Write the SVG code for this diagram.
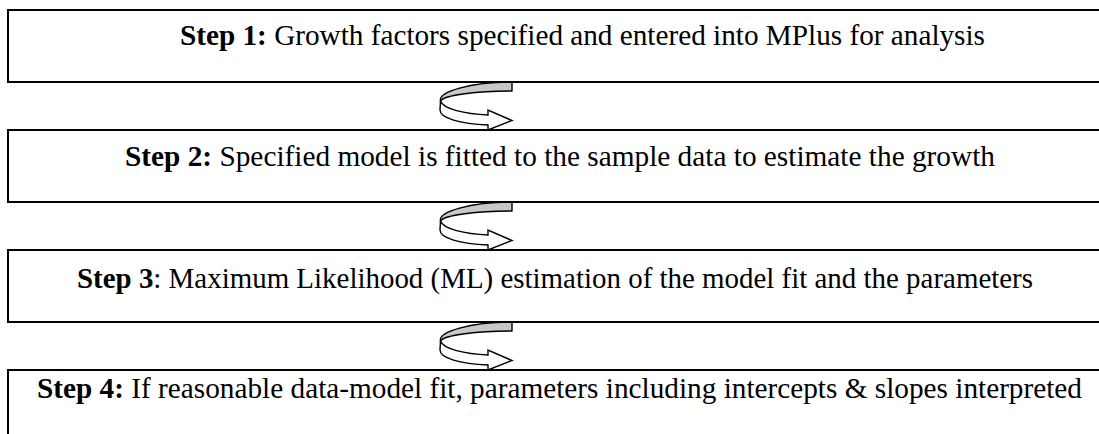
<svg xmlns="http://www.w3.org/2000/svg" width="1099" height="434" viewBox="0 0 1099 434">
<defs>
<style>
.box{fill:#fff;stroke:#000;stroke-width:2}
.t{font-family:"Liberation Serif","Times New Roman",serif;font-size:29px;fill:#000}
.b{font-weight:bold}
.back{fill:#c8c8c8;stroke:#000;stroke-width:1.4;stroke-linejoin:round}
.front{fill:#fff;stroke:#000;stroke-width:1.4;stroke-linejoin:miter}
</style>
<g id="uturn">
<path class="back" d="M512,82 L512,91 C478,91 444,95 440.5,101 C438,92 470,82 512,82 Z"/>
<path class="front" d="M440.5,101 C443,109 465,114 488,115 L488,110 L512,120.5 L488,130 L488,125 C460,124 440,118 440,110 Z"/>
</g>
</defs>
<rect width="1099" height="434" fill="#fff"/>
<g id="connectors">
<use href="#uturn"/>
<use href="#uturn" transform="translate(0,120)"/>
<use href="#uturn" transform="translate(0,240)"/>
</g>
<g id="step1">
<rect class="box" x="8" y="10" width="1100" height="72"/>
<text class="t" x="180" y="45" textLength="805" lengthAdjust="spacingAndGlyphs"><tspan class="b">Step 1:</tspan> Growth factors specified and entered into MPlus for analysis</text>
</g>
<g id="step2">
<rect class="box" x="8" y="130" width="1100" height="72"/>
<text class="t" x="125" y="166" textLength="870" lengthAdjust="spacingAndGlyphs"><tspan class="b">Step 2:</tspan> Specified model is fitted to the sample data to estimate the growth</text>
</g>
<g id="step3">
<rect class="box" x="8" y="250" width="1100" height="72"/>
<text class="t" x="77" y="288" textLength="956" lengthAdjust="spacingAndGlyphs"><tspan class="b">Step 3</tspan>: Maximum Likelihood (ML) estimation of the model fit and the parameters</text>
</g>
<g id="step4">
<rect class="box" x="8" y="370" width="1100" height="80"/>
<text class="t" x="37" y="398" textLength="1045" lengthAdjust="spacingAndGlyphs"><tspan class="b">Step 4:</tspan> If reasonable data-model fit, parameters including intercepts &amp; slopes interpreted</text>
</g>
</svg>
